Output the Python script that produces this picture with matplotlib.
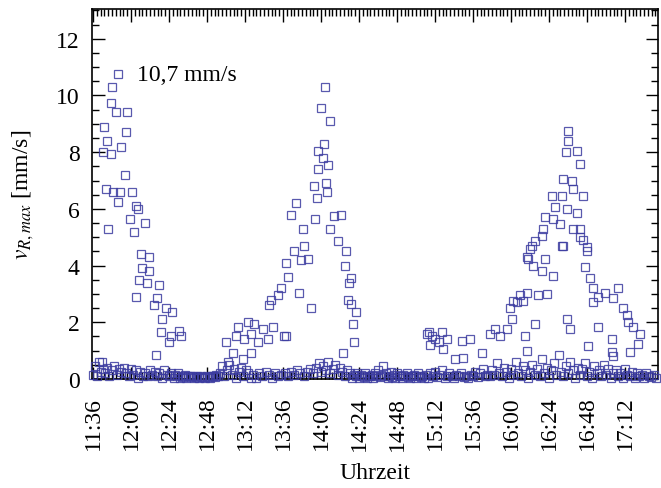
import matplotlib
matplotlib.use("Agg")
import matplotlib.pyplot as plt
from matplotlib.ticker import MultipleLocator
import numpy as np

plt.rcParams['font.family'] = ['Liberation Serif', 'DejaVu Serif']
plt.rcParams['mathtext.fontset'] = 'stix'

# ---- tick labels (time of day) ----
tick_labels = ["11:36", "12:00", "12:24", "12:48", "13:12", "13:36", "14:00",
               "14:24", "14:48", "15:12", "15:36", "16:00", "16:24", "16:48", "17:12"]
start = "11:36"

def to_min(s):
    h, m = s.split(":")
    return int(h) * 60 + int(m)

# ---- data: minutes after 11:36, v_R,max in mm/s ----
peak1_t = [15.8, 12.0, 11.3, 14.5, 21.4, 6.9, 20.8, 8.8, 17.7, 6.3, 11.3, 20.2, 8.2, 17.0, 24.6,
           12.6, 15.8, 27.1, 28.4, 23.3, 32.8, 25.9, 9.5, 30.3, 35.3, 30.9, 35.3, 29.0, 34.0, 41.6,
           27.1, 40.4, 38.5, 46.0, 49.8, 43.5, 42.9, 49.2, 54.2, 47.9, 55.5, 39.7, 5.6]
peak1_v = [10.74, 10.3, 9.75, 9.4, 9.4, 8.9, 8.7, 8.4, 8.2, 8.0, 7.95, 7.2, 6.7, 6.6, 6.6,
           6.6, 6.25, 6.1, 6.0, 5.65, 5.5, 5.2, 5.3, 4.4, 4.3, 3.9, 3.8, 3.5, 3.4, 3.3,
           2.9, 2.85, 2.6, 2.5, 2.35, 2.1, 1.65, 1.5, 1.7, 1.3, 1.5, 0.85, 0.6]

peak2_t = [146.3, 143.8, 149.4, 145.6, 141.9, 145.0, 148.2, 141.9, 139.3, 146.9, 147.5, 141.2,
           128.0, 124.8, 156.4, 152.0, 140.0, 132.4, 149.4, 133.0, 126.7, 121.7, 135.6, 131.1,
           159.5, 154.5, 123.0, 118.5, 116.6, 129.9, 112.2, 137.5, 162.7, 160.8, 162.7, 165.8,
           163.9, 164.6, 157.6, 97.7, 91.4, 101.5, 107.2, 113.5, 90.2, 95.2, 99.6, 104.0,
           110.3, 121.7, 83.9, 88.3, 99.6, 94.6, 85.1, 111.0, 120.4, 158.9, 161.4]
peak2_v = [10.3, 9.55, 9.1, 8.3, 8.05, 7.8, 7.55, 7.4, 6.8, 6.9, 6.6, 6.4,
           6.2, 5.8, 5.8, 5.75, 5.65, 5.3, 5.3, 4.7, 4.5, 4.1, 4.25, 4.2,
           4.5, 4.85, 3.6, 3.2, 2.95, 3.05, 2.8, 2.5, 3.55, 2.8, 2.65, 2.35,
           1.95, 1.3, 0.9, 2.0, 1.85, 1.95, 1.75, 1.85, 1.5, 1.4, 1.6, 1.3,
           1.4, 1.5, 1.3, 0.9, 0.9, 0.7, 0.6, 2.6, 1.5, 4.0, 3.4]

mid_t = [211.2, 214.4, 220.7, 213.1, 216.3, 221.3, 223.8, 233.3, 238.3, 233.9, 245.9, 228.9, 218.2, 211.9]
mid_v = [1.6, 1.5, 1.65, 1.2, 1.4, 1.05, 1.4, 1.35, 1.4, 0.75, 0.9, 0.7, 1.3, 1.65]

peak3_t = [254.1, 250.9, 257.3, 261.7, 264.8, 263.6, 268.0, 265.4, 271.8, 274.3, 269.9, 281.2,
           286.9, 273.0, 279.3, 274.3, 299.5, 301.4, 319.0, 312.7, 327.9, 274.9, 278.1, 283.7,
           290.7, 285.6, 276.2, 279.3, 296.3, 309.6, 312.1, 310.8, 314.0, 315.8, 319.0, 315.8,
           323.5, 331.7, 328.5, 334.8, 337.3, 338.0, 341.1, 345.5, 344.3, 339.2, 327.9, 328.5,
           300.1, 300.1, 298.9, 305.8, 307.7, 296.9, 302.6, 303.3, 309.6, 290.0, 296.3, 291.9,
           299.5, 305.8, 285.6, 290.7, 295.1, 284.4, 303.3, 307.7, 283.7, 307.7, 297.0, 312.1,
           277.4, 274.3]
peak3_v = [1.75, 1.6, 1.5, 1.75, 2.1, 2.5, 2.7, 2.75, 2.75, 3.05, 2.95, 2.95,
           3.0, 1.5, 1.95, 1.0, 2.1, 1.75, 1.85, 1.15, 0.95, 4.25, 4.0, 3.8,
           3.65, 4.25, 4.6, 4.85, 4.7, 4.9, 4.5, 3.95, 3.55, 3.2, 2.9, 2.7,
           3.05, 3.2, 2.85, 2.5, 2.25, 2.0, 1.85, 1.6, 1.25, 0.95, 1.4, 0.8,
           8.75, 8.4, 8.0, 8.05, 7.6, 7.05, 7.0, 6.7, 6.45, 6.45, 6.45, 6.05,
           6.0, 5.85, 5.7, 5.65, 5.45, 5.3, 5.3, 5.3, 5.05, 5.0, 4.7, 4.65,
           4.7, 4.3]

base_t = [0, 1.2, 2.5, 3.6, 5, 6.2, 7.5, 9, 10.4, 12, 13.5, 15, 16.5, 18, 19.5, 21, 22.5, 24,
          25.5, 27, 28.5, 30, 31.5,
          33, 34.5, 36, 37.5, 39, 40.5, 42, 43.5, 45, 46.5, 48, 49.5,
          51, 52, 53, 54, 55, 56, 57, 58, 59, 60, 61, 62, 63, 64, 65, 66, 67, 68, 69, 70,
          71, 72, 73, 74, 75, 76, 77, 78, 79,
          80, 81.5, 83, 84.5, 86, 87.5, 89, 90.5, 92, 93.5, 95, 96.5, 98, 99.5,
          101, 103, 105, 107, 109, 111, 113, 115, 117, 119, 121, 123, 125, 127, 129, 131,
          133, 135, 137, 139,
          141, 142.5, 144, 145.5, 147, 148.5, 150, 151.5, 153, 154.5, 156, 157.5, 159,
          160.5, 162, 163.5, 165,
          166, 167, 168, 169, 170, 171, 172, 173, 174, 175, 176, 177, 178, 179, 180, 181,
          182, 183, 184, 185, 186, 187, 188, 189, 190, 191, 192, 193, 194, 195, 196, 197,
          198, 199, 200, 201, 202, 203, 204, 205, 206, 207, 208, 209,
          210, 211.5, 213, 214.5, 216, 217.5, 219, 220.5, 222, 223.5, 225, 226.5, 228,
          229.5, 231, 232.5, 234, 235.5, 237, 238.5, 240, 241.5, 243, 244.5, 246, 247.5, 249,
          250.5, 252, 253.5, 255, 256.5, 258, 259.5, 261, 262.5, 264, 265.5, 267, 268.5,
          270, 271.5, 273, 274.5, 276, 277.5, 279, 280.5, 282, 283.5, 285, 286.5, 288,
          289.5, 291, 292.5, 294, 295.5, 297, 298.5, 300, 301.5, 303, 304.5, 306, 307.5,
          309, 310.5, 312, 313.5, 315, 316.5, 318, 319.5, 321, 322.5, 324, 325.5, 327, 328.5,
          330, 331.5, 333, 334.5, 336, 337.5, 339, 340.5, 342, 343.5, 345, 346.5, 348,
          349.5, 351, 352.5, 354, 355.5]
base_v = [0.15, 0.45, 0.1, 0.6, 0.25, 0.35, 0.2, 0.4, 0.1, 0.3, 0.45, 0.15, 0.35, 0.25, 0.4, 0.2, 0.1, 0.35,
          0.15, 0.3, 0.05, 0.25, 0.1,
          0.2, 0.1, 0.3, 0.15, 0.25, 0.1, 0.2, 0.05, 0.3, 0.15, 0.1, 0.2,
          0.05, 0.15, 0.1, 0.2, 0.05, 0.12, 0.08, 0.15, 0.05, 0.1, 0.12, 0.06, 0.1, 0.05, 0.08, 0.12, 0.05, 0.1, 0.06, 0.08,
          0.05, 0.1, 0.07, 0.05, 0.09, 0.12, 0.06, 0.15, 0.1,
          0.2, 0.45, 0.1, 0.3, 0.5, 0.15, 0.35, 0.05, 0.25, 0.4, 0.1, 0.3, 0.2, 0.05,
          0.15, 0.05, 0.2, 0.1, 0.25, 0.15, 0.05, 0.2, 0.1, 0.15, 0.2, 0.1, 0.25, 0.15, 0.3, 0.2,
          0.1, 0.25, 0.35, 0.2,
          0.4, 0.55, 0.25, 0.45, 0.3, 0.6, 0.2, 0.35, 0.5, 0.15, 0.4, 0.25, 0.1,
          0.3, 0.2, 0.05, 0.15,
          0.1, 0.2, 0.05, 0.15, 0.1, 0.08, 0.2, 0.05, 0.12, 0.1, 0.15, 0.05, 0.2, 0.1, 0.3, 0.08,
          0.15, 0.45, 0.1, 0.2, 0.05, 0.12, 0.25, 0.08, 0.15, 0.05, 0.2, 0.1, 0.12, 0.05, 0.15, 0.1,
          0.2, 0.08, 0.05, 0.12, 0.1, 0.15, 0.05, 0.2, 0.1, 0.08, 0.12, 0.05,
          0.15, 0.05, 0.2, 0.1, 0.25, 0.08, 0.15, 0.3, 0.05, 0.12, 0.2, 0.1, 0.05,
          0.15, 0.1, 0.2, 0.08, 0.12, 0.05, 0.15, 0.1, 0.25, 0.08, 0.2, 0.35, 0.1, 0.15,
          0.1, 0.3, 0.15, 0.55, 0.2, 0.1, 0.4, 0.25, 0.05, 0.35, 0.15, 0.6, 0.2,
          0.1, 0.45, 0.3, 0.05, 0.25, 0.5, 0.15, 0.35, 0.1, 0.7, 0.2, 0.4, 0.05,
          0.3, 0.55, 0.15, 0.85, 0.25, 0.1, 0.45, 0.2, 0.6, 0.3, 0.05, 0.4, 0.15,
          0.35, 0.55, 0.1, 0.25, 0.05, 0.45, 0.2, 0.3, 0.1, 0.5, 0.15, 0.35, 0.05, 0.2,
          0.3, 0.1, 0.2, 0.05, 0.35, 0.15, 0.1, 0.25, 0.05, 0.2, 0.1, 0.15, 0.05,
          0.2, 0.1, 0.08, 0.15, 0.05]

peak_label = "10,7 mm/s"
x_label = "Uhrzeit"
y_label = r"$v_{R,max}$ [mm/s]"

# ---- figure ----
fig = plt.figure(figsize=(6.61, 4.89), dpi=100)
ax = fig.add_axes([92 / 661, 1 - 380 / 489, 566 / 661, 370 / 489])

all_t = np.concatenate([base_t, peak1_t, peak2_t, mid_t, peak3_t])
all_v = np.concatenate([base_v, peak1_v, peak2_v, mid_v, peak3_v])

ax.plot(all_t, all_v, linestyle='none', marker='s', markersize=6.2,
        markerfacecolor='none', markeredgecolor='#3c3ca0', markeredgewidth=0.9,
        alpha=0.85, clip_on=False, zorder=3)

t0 = to_min(start)
ticks = [to_min(s) - t0 for s in tick_labels]
ax.set_xticks(ticks)
ax.set_xticklabels(tick_labels, rotation=90, fontsize=17)
ax.xaxis.set_minor_locator(MultipleLocator(2.4))
ax.set_xlim(-0.6, 356.8)

ax.set_ylim(0, 13.05)
ax.set_yticks([0, 2, 4, 6, 8, 10, 12])
ax.yaxis.set_minor_locator(MultipleLocator(0.5))
ax.tick_params(axis='y', labelsize=17)

ax.tick_params(which='both', direction='in', top=True, right=True, width=1.0)
ax.tick_params(which='major', length=9)
ax.tick_params(which='minor', length=5)
ax.tick_params(axis='x', which='major', pad=12)
ax.tick_params(axis='y', which='major', pad=9)
for sp in ax.spines.values():
    sp.set_linewidth(1.2)

ax.set_xlabel(x_label, fontsize=17, labelpad=9)
ax.set_ylabel(y_label, fontsize=17, labelpad=14)

ax.text(27.5, 10.74, peak_label, fontsize=17, ha='left', va='center')

fig.savefig("out.png", dpi=100)
